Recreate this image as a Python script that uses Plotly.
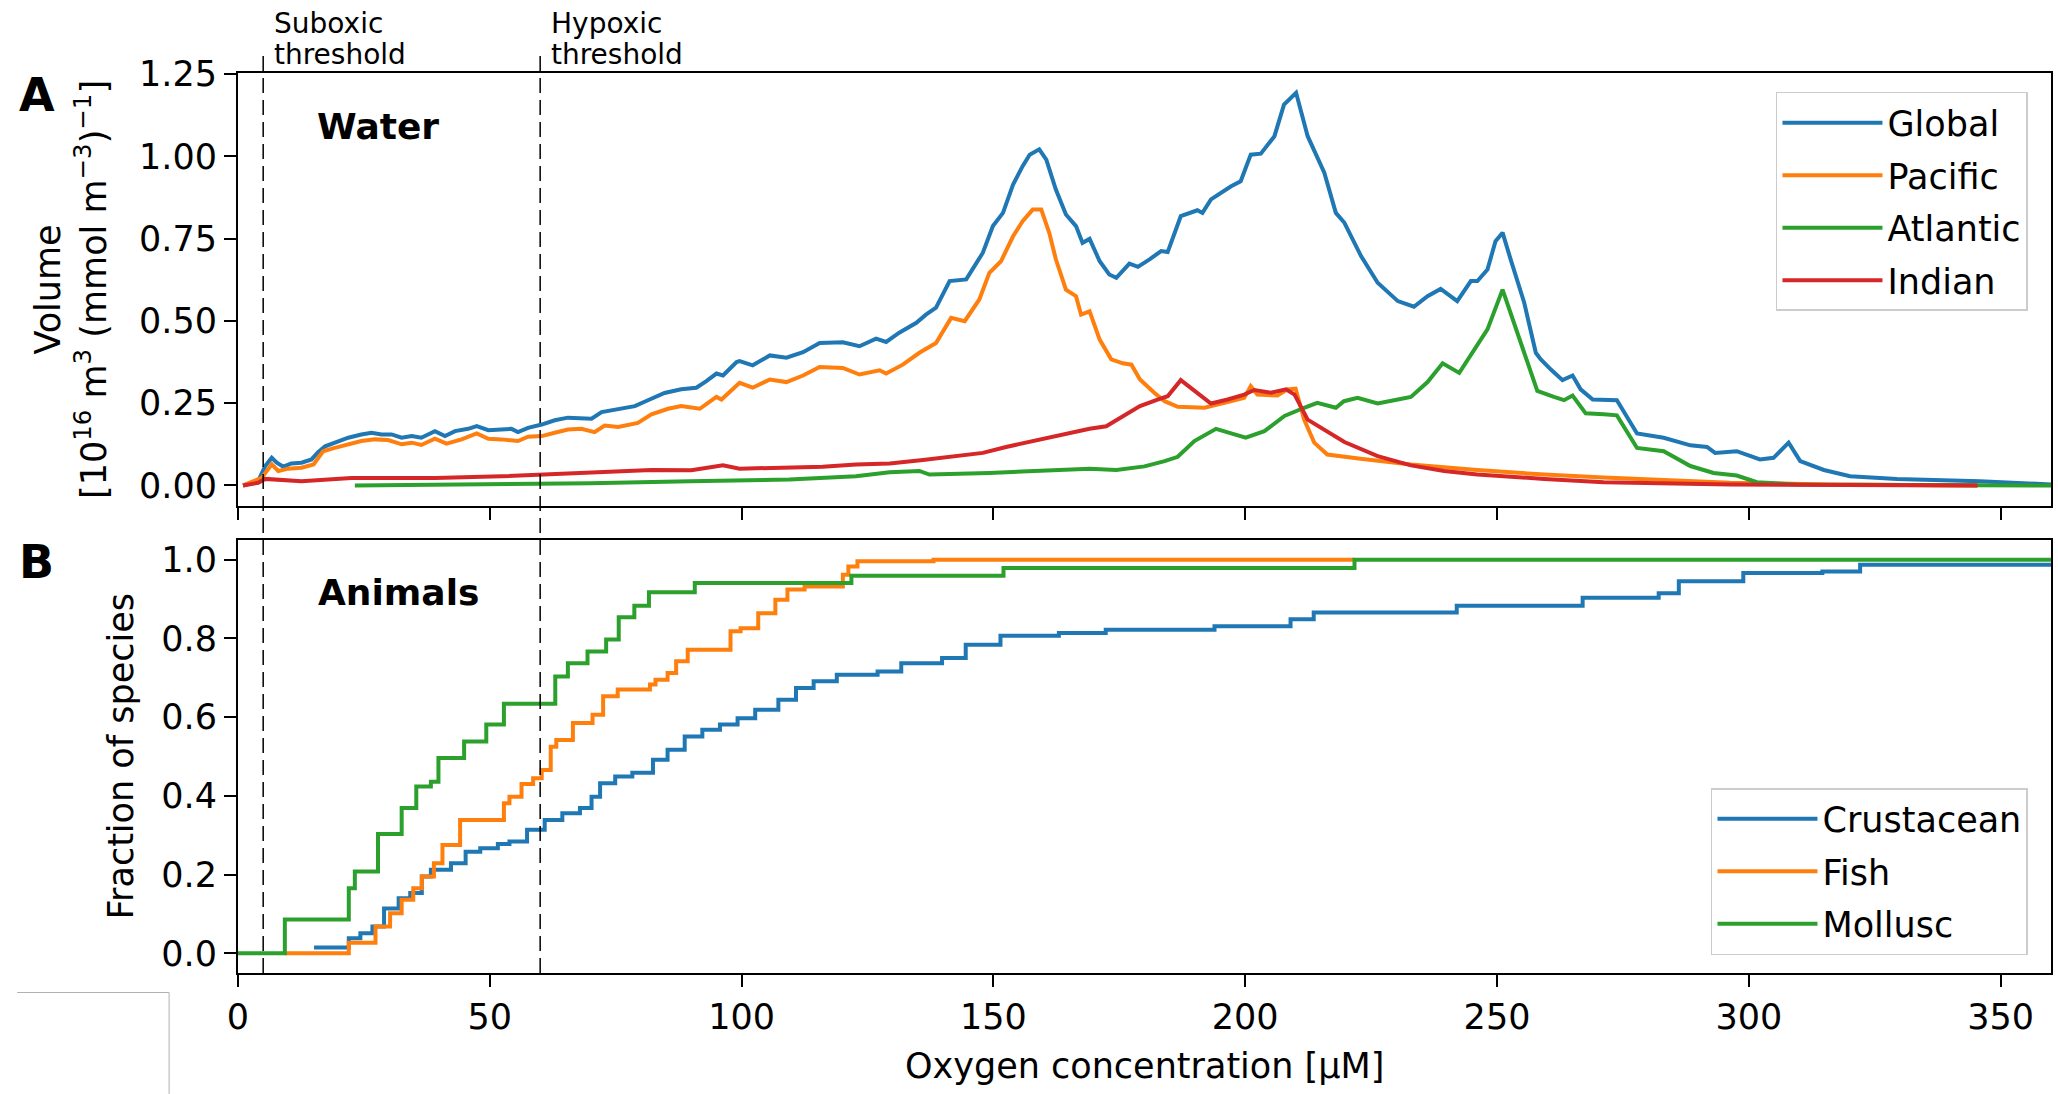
import plotly.graph_objects as go

# ---------------- data ----------------
global_pts = [(1,0),(4,0.013),(5.4,0.059),(6.7,0.084),(7.7,0.069),(9,0.057),(10.6,0.067),(12.6,0.069),(14.6,0.079),
 (15.9,0.101),(17.3,0.119),(19.2,0.13),(21.9,0.145),(24.5,0.155),(26.5,0.16),(28.5,0.155),(30.5,0.155),(32.5,0.145),
 (34.5,0.15),(36.4,0.145),(39.1,0.165),(41.1,0.15),(43.1,0.165),(45.7,0.172),(47.4,0.18),(49.7,0.168),(52.3,0.17),
 (54.3,0.172),(55.6,0.162),(57.6,0.175),(60.3,0.185),(62.9,0.198),(65.5,0.206),(68.2,0.206),(70.2,0.203),(72.2,0.223),
 (75.5,0.233),(78.8,0.241),(81.4,0.259),(84.7,0.281),(88.0,0.292),(91,0.297),(93,0.317),(95,0.34),(96.3,0.334),
 (99,0.375),(99.6,0.378),(102.2,0.365),(105.6,0.395),(108.9,0.388),(112.2,0.405),(115.5,0.433),(120.1,0.435),
 (123.4,0.423),(126.7,0.446),(128.7,0.436),(131.3,0.464),(134.7,0.494),(136.6,0.519),(138.6,0.54),(141.3,0.621),
 (144.6,0.626),(147.9,0.707),(149.9,0.788),(151.9,0.828),(153.9,0.914),(155.8,0.97),(157.2,1.005),(159.1,1.021),
 (160.5,0.99),(162.4,0.899),(164.4,0.823),(166.4,0.788),(167.7,0.737),(169.1,0.749),(171.1,0.681),(173.0,0.641),
 (174.4,0.631),(177.0,0.674),(178.7,0.664),(181,0.687),(183.3,0.712),(184.6,0.709),(187.2,0.818),(190.5,0.836),
 (191.5,0.828),(193.2,0.869),(197.2,0.909),(199.1,0.924),(201.1,1.005),(203.1,1.008),(205.8,1.061),(207.7,1.157),
 (210.1,1.193),(212.4,1.061),(215.7,0.95),(218.0,0.828),(219.7,0.798),(223.0,0.697),(226.3,0.616),(230.3,0.56),
 (233.5,0.543),(236.2,0.575),(238.8,0.597),(242.1,0.56),(244.8,0.621),(246.1,0.621),(248.1,0.656),(249.7,0.742),
 (251.1,0.768),(252.7,0.687),(255.4,0.555),(257.7,0.403),(258.7,0.383),(260.7,0.352),(263.0,0.32),(265.0,0.334),
 (266.6,0.292),(269.0,0.261),(273.8,0.259),(277.8,0.158),(283.1,0.145),(288.4,0.122),(291.7,0.117),(293.3,0.099),
 (297.6,0.104),(302.2,0.079),(304.9,0.084),(307.9,0.13),(310.2,0.074),(314.9,0.047),(320.1,0.028),(329.4,0.02),
 (345.9,0.013),(360,0.003)]

pacific_pts = [(1,0),(4.7,0.023),(6.7,0.064),(8,0.044),(10,0.051),(12.6,0.054),(15,0.064),(16.9,0.104),(19.2,0.114),
 (21.9,0.125),(24.5,0.135),(27.2,0.14),(29.8,0.138),(32.5,0.125),(34.5,0.13),(36.4,0.123),(39.1,0.142),(41.4,0.127),
 (44.4,0.14),(47.4,0.158),(49.7,0.142),(52.3,0.14),(55.6,0.135),(57.6,0.148),(60.3,0.15),(62.9,0.16),(65.5,0.17),
 (68.2,0.172),(70.8,0.162),(72.8,0.182),(75.5,0.178),(79.4,0.19),(82.1,0.216),(85.4,0.233),(88.0,0.241),(91.7,0.233),
 (95,0.269),(96,0.261),(99.6,0.312),(102.2,0.297),(105.6,0.322),(108.9,0.314),(112.2,0.334),(115.5,0.36),(120.1,0.357),
 (123.4,0.337),(127.4,0.35),(128.7,0.34),(132.0,0.367),(135.3,0.403),(138.6,0.433),(141.6,0.509),(144.3,0.499),
 (147.2,0.565),(149.2,0.646),(151.5,0.681),(153.9,0.757),(155.8,0.803),(157.8,0.838),(159.5,0.838),(161.1,0.767),
 (162.4,0.687),(164.4,0.595),(166.4,0.575),(167.4,0.519),(169.1,0.529),(171.1,0.443),(173.4,0.383),(175.7,0.371),
 (177.4,0.367),(179.1,0.322),(182,0.281),(184,0.256),(186.6,0.239),(191.9,0.236),(196.5,0.253),(199.8,0.266),
 (201.1,0.302),(202.4,0.276),(206.4,0.273),(208.4,0.292),(210.0,0.294),(211.7,0.2),(213.7,0.13),(216.3,0.094),
 (222.9,0.081),(232.9,0.064),(246.1,0.047),(259.4,0.033),(271.2,0.024),(283.1,0.016),(296.3,0.008),(316.1,0.003),
 (345.4,0.0)]

atlantic_pts = [(23.2,0.0),(50,0.003),(70,0.007),(89.7,0.013),(109.5,0.018),(122.7,0.028),(129.4,0.04),(135.3,0.044),
 (137.3,0.033),(149.2,0.038),(159.1,0.044),(169.1,0.051),(174.4,0.047),(180,0.058),(184,0.074),(186.6,0.087),
 (189.9,0.135),(194.2,0.172),(197.2,0.158),(200.1,0.145),(203.8,0.165),(207.8,0.211),(211.7,0.236),(214.3,0.251),
 (218.0,0.236),(219.6,0.256),(222.3,0.266),(226.3,0.249),(230.3,0.261),(232.9,0.269),(236.2,0.314),(239.2,0.371),
 (242.5,0.342),(245.4,0.413),(248.1,0.474),(251.1,0.595),(252.7,0.525),(255.4,0.403),(258.0,0.287),(261.3,0.269),
 (263.3,0.259),(265.0,0.273),(267.6,0.219),(271.2,0.216),(273.8,0.213),(277.8,0.114),(283.1,0.104),(288.4,0.059),
 (293,0.038),(297.6,0.03),(301.6,0.01),(309.5,0.003),(360,0.0)]

indian_pts = [(1,0),(4,0.008),(5.4,0.02),(12.6,0.013),(22.5,0.023),(39.1,0.023),(52.3,0.028),(60.3,0.033),(72.2,0.042),
 (82.1,0.047),(90,0.046),(96.3,0.061),(99.6,0.051),(106.2,0.054),(116.1,0.057),(122.7,0.064),(129.4,0.067),(136,0.077),
 (142.6,0.089),(147.9,0.099),(152.5,0.117),(159.1,0.14),(162.4,0.15),(165.7,0.162),(169.1,0.172),(172.4,0.18),
 (175.7,0.211),(179.1,0.241),(182.6,0.261),(184.6,0.271),(187.2,0.32),(189.9,0.287),(193.2,0.249),(196.5,0.261),
 (199.8,0.276),(201.8,0.29),(205.1,0.282),(208.1,0.292),(209.8,0.276),(212.4,0.2),(215.7,0.17),(219.7,0.132),
 (226.3,0.089),(232.9,0.061),(239.5,0.044),(246.1,0.033),(259.4,0.02),(271.2,0.01),(296.3,0.003),(345.4,0.0)]

crustacean_steps = [(15.1,0.015),(22.0,0.038),(24.3,0.051),(26.7,0.068),(29.0,0.114),(31.9,0.140),(34.2,0.153),
 (36.5,0.195),(38.3,0.212),(42.3,0.229),(45.2,0.258),(48.1,0.267),(51.6,0.278),(53.9,0.284),(57.4,0.314),(60.9,0.339),
 (64.4,0.356),(67.9,0.369),(70.2,0.398),(71.9,0.432),(74.9,0.449),(78.3,0.459),(82.4,0.492),(85.3,0.517),(88.7,0.551),
 (92.2,0.568),(95.7,0.581),(99.2,0.597),(102.7,0.619),(107.3,0.644),(110.8,0.674),(114.3,0.691),(118.9,0.708),
 (127.0,0.716),(131.7,0.737),(139.8,0.75),(144.5,0.784),(151.4,0.807),(163.0,0.814),(172.3,0.822),(193.9,0.831),
 (209.0,0.849),(213.6,0.866),(242.0,0.883),(267.0,0.903),(282.1,0.915),(286.1,0.945),(298.9,0.966),(314.6,0.97),
 (322.1,0.987),(360,0.987)]

fish_steps = [(9.3,0),(22.0,0.027),(27.3,0.068),(30.2,0.102),(32.5,0.136),(34.8,0.165),(36.5,0.195),(38.9,0.229),
 (40.6,0.275),(44.1,0.339),(52.8,0.381),(53.9,0.398),(56.3,0.430),(58.6,0.445),(60.3,0.466),(62.1,0.525),(63.2,0.542),
 (66.5,0.585),(70.4,0.606),(72.5,0.653),(75.4,0.670),(81.8,0.683),(82.9,0.695),(85.3,0.712),(87.0,0.742),(89.3,0.771),
 (97.8,0.818),(99.8,0.826),(103.3,0.864),(106.7,0.898),(109.1,0.924),(112.5,0.932),(120.1,0.962),(121.2,0.983),
 (123.0,0.996),(138.1,1.0),(221.7,1.0)]

mollusc_steps = [(0,0),(9.3,0.086),(22.0,0.165),(23.2,0.208),(27.8,0.303),(32.5,0.369),(35.4,0.424),(38.3,0.436),
 (39.8,0.496),(44.9,0.538),(49.3,0.581),(52.8,0.634),(63.0,0.703),(65.5,0.737),(69.4,0.767),(73.1,0.797),(75.6,0.854),
 (78.7,0.883),(81.6,0.917),(90.7,0.941),(121.8,0.959),(152.0,0.979),(221.7,1.0),(360,1.0)]

water_names = ["Global", "Pacific", "Atlantic", "Indian"]
animal_names = ["Crustacean", "Fish", "Mollusc"]
colors = ["#1f77b4", "#ff7f0e", "#2ca02c", "#d62728"]
thresholds = [5, 60]
threshold_labels = ["Suboxic", "Hypoxic"]
x_ticks = [0, 50, 100, 150, 200, 250, 300, 350]
top_yticks = [0, 0.25, 0.5, 0.75, 1.0, 1.25]
bot_yticks = [0, 0.2, 0.4, 0.6, 0.8, 1.0]

FONT = "DejaVu Sans"
LW = 4
fig = go.Figure()

for name, pts, col in zip(water_names, [global_pts, pacific_pts, atlantic_pts, indian_pts], colors):
    fig.add_trace(go.Scatter(x=[p[0] for p in pts], y=[p[1] for p in pts], mode="lines", name=name,
                             line=dict(color=col, width=LW), xaxis="x", yaxis="y",
                             legend="legend", legendgroup=name))

for name, pts, col in zip(animal_names, [crustacean_steps, fish_steps, mollusc_steps], colors):
    fig.add_trace(go.Scatter(x=[p[0] for p in pts], y=[p[1] for p in pts], mode="lines", name=name,
                             line=dict(color=col, width=LW, shape="hv"), xaxis="x2", yaxis="y2",
                             legend="legend2", legendgroup=name))

axis_common = dict(range=[0, 360], showline=True, linecolor="black", linewidth=2, mirror=True,
                   ticks="outside", ticklen=12, tickwidth=2, tickcolor="black", showgrid=False,
                   zeroline=False, tickvals=x_ticks, tickfont=dict(family=FONT, size=35, color="black"))

legend_common = dict(x=0.9873, xanchor="right", bgcolor="white", bordercolor="#cccccc", borderwidth=1.5,
                     font=dict(family=FONT, size=35, color="black"), itemwidth=100,
                     traceorder="grouped", tracegroupgap=4)

fig.update_layout(
    width=2058, height=1094,
    margin=dict(l=238, r=5, t=73, b=121, pad=0),
    paper_bgcolor="white", plot_bgcolor="white",
    font=dict(family=FONT, size=35, color="black"),
    xaxis=dict(**axis_common, anchor="y", showticklabels=False),
    yaxis=dict(domain=[0.5194, 1.0], range=[-0.061, 1.253], anchor="x", showline=True, linecolor="black",
               linewidth=2, mirror=True, ticks="outside", ticklen=12, tickwidth=2, tickcolor="black",
               showgrid=False, zeroline=False, tickvals=top_yticks, tickformat=".2f",
               tickfont=dict(family=FONT, size=35, color="black")),
    xaxis2=dict(**axis_common, anchor="y2", matches="x"),
    yaxis2=dict(domain=[0, 0.4811], range=[-0.05, 1.05], anchor="x2", showline=True, linecolor="black",
                linewidth=2, mirror=True, ticks="outside", ticklen=12, tickwidth=2, tickcolor="black",
                showgrid=False, zeroline=False, tickvals=bot_yticks, tickformat=".1f",
                tickfont=dict(family=FONT, size=35, color="black")),
    legend=dict(**legend_common, y=0.979, yanchor="top"),
    legend2=dict(**legend_common, y=0.02, yanchor="bottom"),
    showlegend=True,
)

shapes = []
annotations = []
for t, lab in zip(thresholds, threshold_labels):
    shapes.append(dict(type="line", xref="x", yref="paper", x0=t, x1=t, y0=0, y1=1.02,
                       line=dict(color="black", width=1.5, dash="15px,7px"), layer="above"))
    annotations.append(dict(text=lab, xref="x", yref="paper", x=t, y=1.055, xanchor="left", yanchor="middle",
                            xshift=9, showarrow=False, font=dict(family=FONT, size=28, color="black")))
    annotations.append(dict(text="threshold", xref="x", yref="paper", x=t, y=1.021, xanchor="left",
                            yanchor="middle", xshift=9, showarrow=False,
                            font=dict(family=FONT, size=28, color="black")))

# thin frame in the lower-left corner of the reference
shapes.append(dict(type="path", xref="paper", yref="paper",
                   path="M -0.1218 -0.0217 L -0.038 -0.0217 L -0.038 -0.1344",
                   line=dict(color="#b0b0b0", width=1)))

annotations += [
    dict(text="<b>Water</b>", xref="x", yref="y", x=15.3, y=1.089, xanchor="left", yanchor="middle",
         showarrow=False, font=dict(family=FONT, size=36, color="black")),
    dict(text="<b>Animals</b>", xref="x2", yref="y2", x=15.4, y=0.9155, xanchor="left", yanchor="middle",
         showarrow=False, font=dict(family=FONT, size=36, color="black")),
    dict(text="<b>A</b>", xref="paper", yref="paper", x=-0.111, y=0.976, xanchor="center", yanchor="middle",
         showarrow=False, font=dict(family=FONT, size=46, color="black")),
    dict(text="<b>B</b>", xref="paper", yref="paper", x=-0.111, y=0.4567, xanchor="center", yanchor="middle",
         showarrow=False, font=dict(family=FONT, size=46, color="black")),
    dict(text="Volume<br>[10<sup>16</sup> m<sup>3</sup> (mmol m<sup>\u22123</sup>)<sup>\u22121</sup>]",
         xref="paper", yref="paper", x=-0.0917, y=0.7597, xanchor="center", yanchor="middle",
         textangle=-90, showarrow=False, font=dict(family=FONT, size=35, color="black")),
    dict(text="Fraction of species", xref="paper", yref="paper", x=-0.0645, y=0.2406, xanchor="center",
         yanchor="middle", textangle=-90, showarrow=False, font=dict(family=FONT, size=35, color="black")),
    dict(text="Oxygen concentration [\u00b5M]", xref="paper", yref="paper", x=0.5, y=-0.1033,
         xanchor="center", yanchor="middle", showarrow=False, font=dict(family=FONT, size=35, color="black")),
]

fig.update_layout(shapes=shapes, annotations=annotations)

fig.write_html("out.html", config={"displayModeBar": False},
               post_script="document.body.style.margin='0';document.body.style.overflow='hidden';")
